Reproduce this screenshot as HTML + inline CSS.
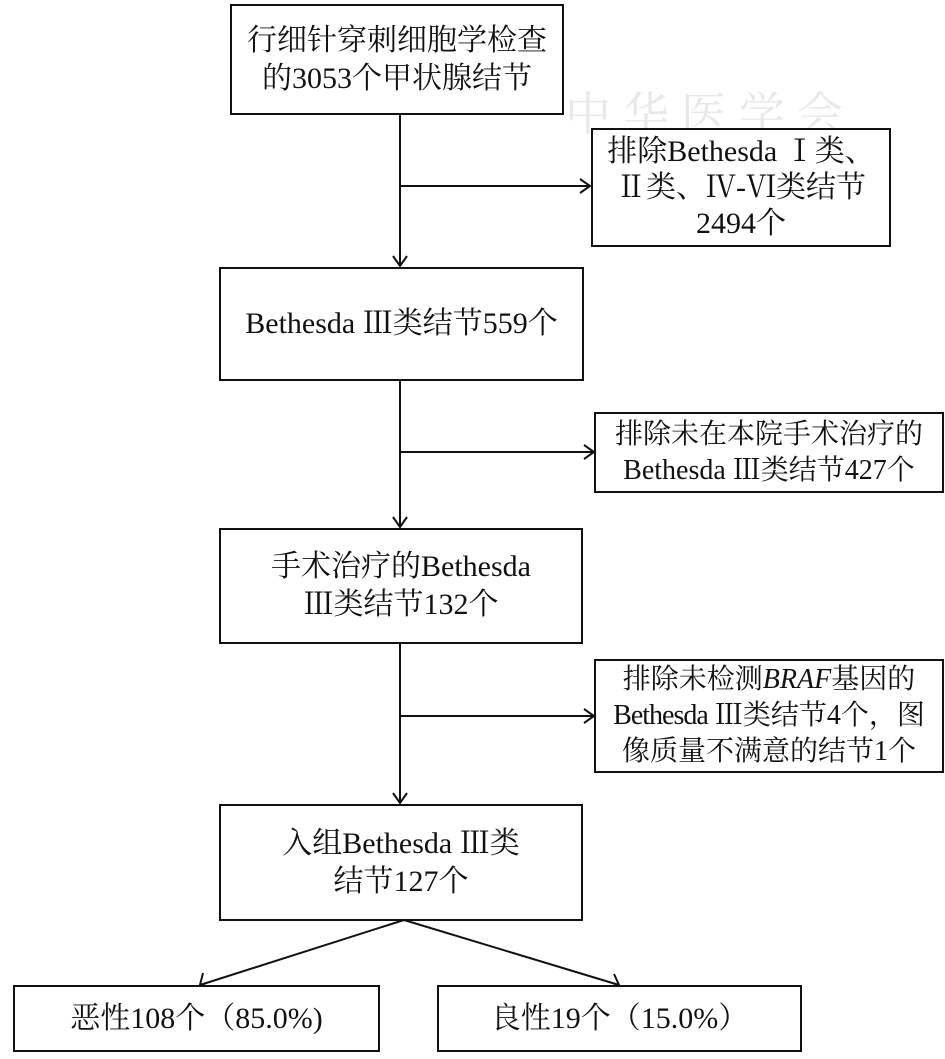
<!DOCTYPE html>
<html><head><meta charset="utf-8"><style>
html,body{margin:0;padding:0;background:#fff;}
body{width:945px;height:1059px;position:relative;overflow:hidden;font-family:"Liberation Serif","Noto Serif CJK SC",serif;color:#111;}
.b{position:absolute;box-sizing:border-box;border:2px solid #111;display:flex;align-items:center;justify-content:center;text-align:center;font-size:30px;line-height:38px;background:#fff;white-space:nowrap;}
svg{position:absolute;left:0;top:0;}
.wm{position:absolute;left:565px;top:78px;font-size:46px;color:#e8e8e8;letter-spacing:12px;font-family:"Noto Serif CJK SC",serif;}
</style></head><body>
<div class="wm">中华医学会</div>
<svg width="945" height="1059">
<g stroke="#111" stroke-width="2" fill="none">
<line x1="400" y1="114" x2="400" y2="266"/>
<polyline points="393,256 400,266 407,256"/>
<line x1="400" y1="186" x2="590" y2="186"/>
<polyline points="580,179 590,186 580,193"/>
<line x1="400" y1="380" x2="400" y2="527"/>
<polyline points="393,517 400,527 407,517"/>
<line x1="400" y1="452" x2="594" y2="452"/>
<polyline points="584,445 594,452 584,459"/>
<line x1="400" y1="643" x2="400" y2="803"/>
<polyline points="393,793 400,803 407,793"/>
<line x1="400" y1="716" x2="594" y2="716"/>
<polyline points="584,709 594,716 584,723"/>
<line x1="404" y1="920" x2="200" y2="985"/>
<polyline points="203,973 200,985 212,987"/>
<line x1="404" y1="920" x2="619" y2="985"/>
<polyline points="607,987 619,985 614,974"/>
</g></svg>
<div class="b" style="left:230px;top:4px;width:334px;height:111px;"><div>行细针穿刺细胞学检查<br>的3053个甲状腺结节</div></div>
<div class="b" style="left:591px;top:128px;width:300px;height:119px;line-height:36px;"><div>排除Bethesda Ⅰ类、<br>Ⅱ类、Ⅳ-Ⅵ类结节<br>2494个</div></div>
<div class="b" style="left:219px;top:267px;width:365px;height:114px;"><div>Bethesda Ⅲ类结节559个</div></div>
<div class="b" style="left:594px;top:412px;width:350px;height:81px;font-size:28px;line-height:36px;"><div>排除未在本院手术治疗的<br>Bethesda Ⅲ类结节427个</div></div>
<div class="b" style="left:219px;top:528px;width:364px;height:116px;"><div>手术治疗的Bethesda<br>Ⅲ类结节132个</div></div>
<div class="b" style="left:594px;top:659px;width:350px;height:114px;font-size:28px;line-height:36px;"><div>排除未检测<i>BRAF</i>基因的<br><span style="letter-spacing:-1px">Bethesda</span> Ⅲ类结节4个，图<br>像质量不满意的结节1个</div></div>
<div class="b" style="left:219px;top:804px;width:364px;height:117px;"><div>入组Bethesda Ⅲ类<br>结节127个</div></div>
<div class="b" style="left:13px;top:985px;width:367px;height:67px;"><div>恶性108个（85.0%)</div></div>
<div class="b" style="left:437px;top:985px;width:365px;height:67px;"><div>良性19个（15.0%）</div></div>
</body></html>
